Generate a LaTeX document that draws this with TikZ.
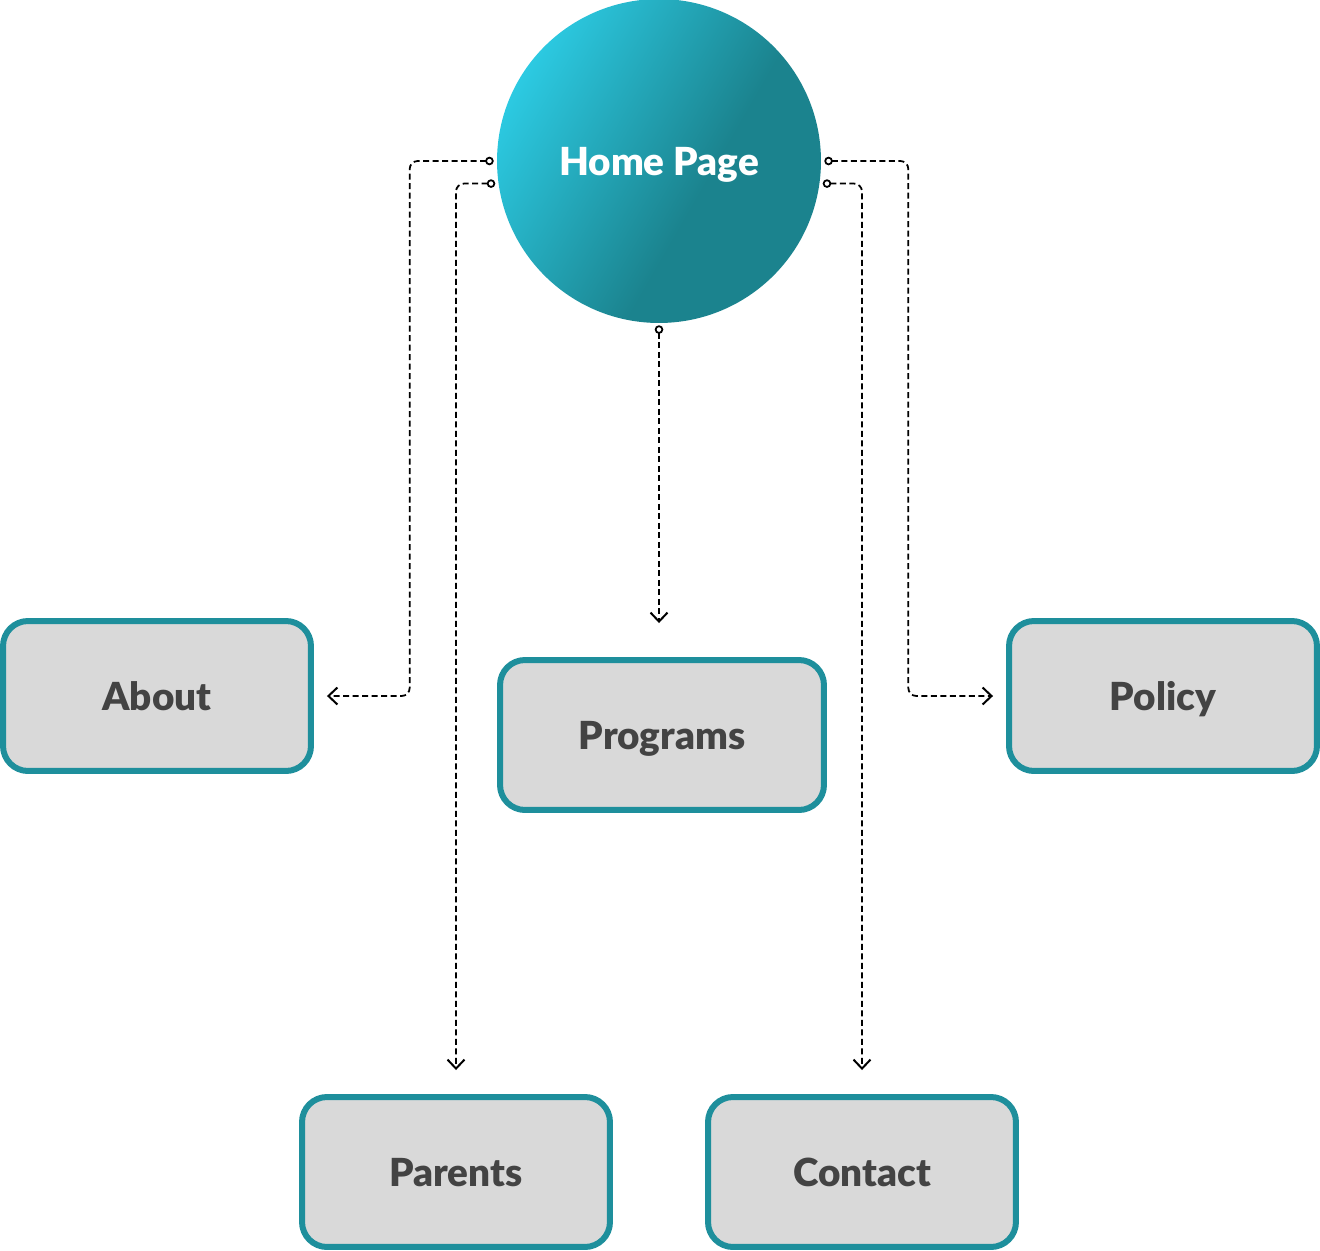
\documentclass[tikz,border=0pt]{standalone}
\usepackage{fontspec}
\setmainfont{Lato}[BoldFont={Lato Black}]
\usetikzlibrary{arrows.meta}
\usetikzlibrary{calc}

\definecolor{tealedge}{HTML}{1E8F9C}
\definecolor{boxfill}{HTML}{D9D9D9}
\definecolor{labelgray}{HTML}{434343}
\definecolor{homecyan}{HTML}{2CCAE2}
\definecolor{hometeal}{HTML}{1B838E}
\pgfdeclarehorizontalshading{homefade}{100bp}{color(0bp)=(homecyan); color(25bp)=(homecyan); color(58bp)=(hometeal); color(100bp)=(hometeal)}

\begin{document}
\begin{tikzpicture}[x=0.02cm,y=-0.02cm,>/.tip={Straight Barb[length=0.18cm,width=0.34cm,line width=0.04cm]},
	page/.style={draw=tealedge,line width=0.12cm,fill=boxfill,rounded corners=0.5cm,minimum width=6.16cm,minimum height=3cm,text depth=0pt,text=labelgray,font=\bfseries\fontsize{22}{26}\selectfont},
	link/.style={black,line width=0.035cm,dash pattern=on 0.12cm off 0.07cm,rounded corners=0.16cm,{Circle[open,length=0.17cm]}->}]
	\useasboundingbox (0,0) rectangle (1320,1251);

	\draw (659,161) node (home) [circle,shade,shading=homefade,shading angle=-30,minimum size=6.48cm,text depth=0pt,text=white,font=\bfseries\fontsize{22}{26}\selectfont] {Home Page};

	\draw (157,696) node (about) [page] {About};
	\draw (662,735) node (programs) [page,minimum width=6.48cm] {Programs};
	\draw (1163,696) node (policy) [page] {Policy};
	\draw (456,1172) node (parents) [page] {Parents};
	\draw (862,1172) node (contact) [page] {Contact};

	\draw[link] ([xshift=-0.06cm]home.west) -- ++(-84,0) |- ([xshift=0.26cm]about.east);
	\draw[link] ([xshift=-0.06cm]home.188) -| ([yshift=0.48cm]parents.north);
	\draw[link] ([yshift=-0.04cm]home.south) -- ([yshift=0.68cm]programs.north -| home.south);
	\draw[link] ([xshift=0.06cm]home.east) -- ++(84,0) |- ([xshift=-0.26cm]policy.west);
	\draw[link] ([xshift=0.06cm]home.352) -| ([yshift=0.48cm]contact.north);
\end{tikzpicture}
\end{document}
